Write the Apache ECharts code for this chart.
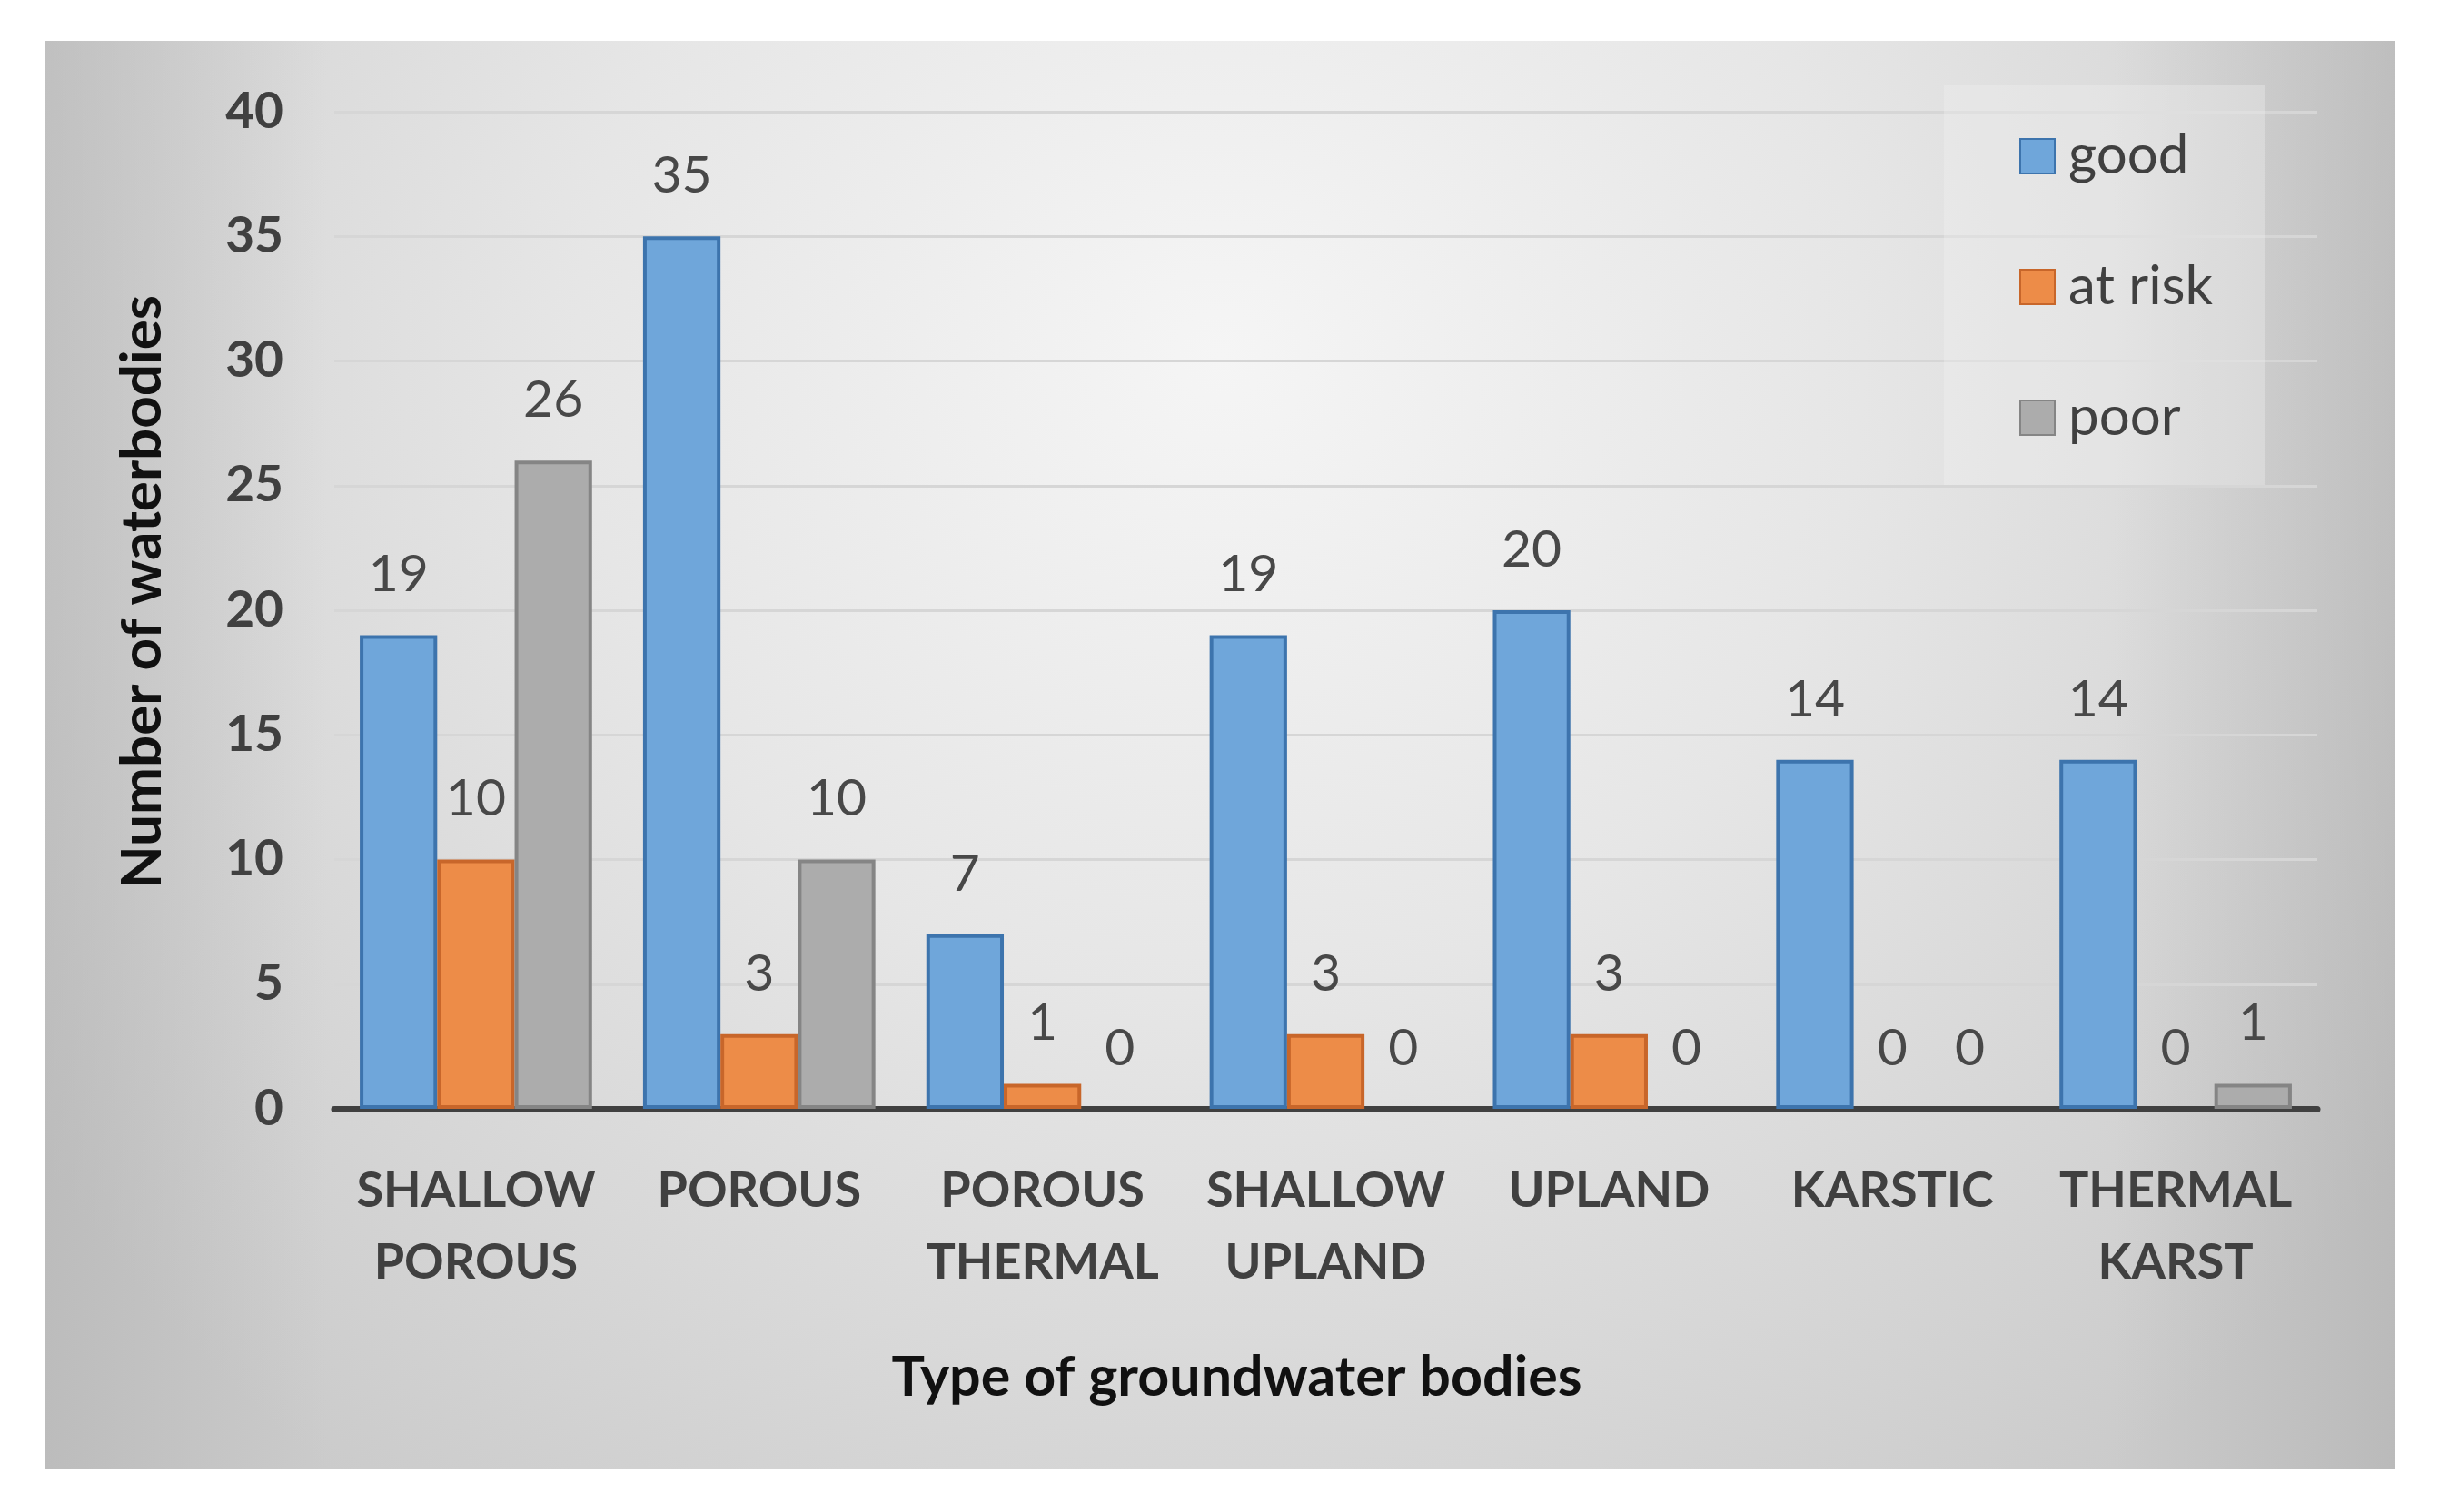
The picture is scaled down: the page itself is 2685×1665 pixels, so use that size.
<!DOCTYPE html>
<html>
<head>
<meta charset="utf-8">
<script src="https://cdn.jsdelivr.net/npm/echarts@6/dist/echarts.min.js"></script>
<style>
html,body{margin:0;padding:0;background:#fff;}
#c{width:2685px;height:1665px;}
</style>
</head>
<body>
<div id="c"></div>
<script>
const categories = ['SHALLOW\nPOROUS', 'POROUS', 'POROUS\nTHERMAL', 'SHALLOW\nUPLAND', 'UPLAND', 'KARSTIC', 'THERMAL\nKARST'];
const seriesNames = ['good', 'at risk', 'poor'];
const good = [19, 35, 7, 19, 20, 14, 14];
const atRisk = [10, 3, 1, 3, 3, 0, 0];
const poor = [26, 10, 0, 0, 0, 0, 1];
const yTitle = 'Number of waterbodies';
const xTitle = 'Type of groundwater bodies';

const FONT = 'Lato, "Open Sans", sans-serif';
const fills = ['#6fa6da', '#ed8c48', '#acacac'];
const borders = ['#3d74ad', '#c8662a', '#858585'];
const values = [good, atRisk, poor];

const chart = echarts.init(document.getElementById('c'), null, {renderer: 'canvas'});

const series = seriesNames.map((n, i) => ({
  name: n,
  type: 'bar',
  data: values[i].map(v => v === 0 ? {value: v, itemStyle: {borderWidth: 0}} : v),
  barGap: '0%',
  barCategoryGap: '18%',
  itemStyle: {color: fills[i], borderColor: borders[i], borderWidth: 4},
  label: {
    show: true, position: 'top', distance: 38,
    fontFamily: FONT, fontSize: 57, color: '#484848', fontWeight: 'normal'
  },
  emphasis: {disabled: true}
}));

chart.setOption({
  animation: false,
  backgroundColor: '#ffffff',
  graphic: [
    {
      type: 'rect', z: -10, silent: true,
      shape: {x: 50, y: 45, width: 2587, height: 1573},
      style: {
        fill: new echarts.graphic.RadialGradient(0.5, 0.22, 1.0, [
          {offset: 0, color: '#f5f5f5'},
          {offset: 0.45, color: '#e6e6e6'},
          {offset: 1, color: '#cbcbcb'}
        ])
      }
    },
    {
      type: 'rect', z: -9, silent: true,
      shape: {x: 50, y: 45, width: 2587, height: 1573},
      style: {
        fill: new echarts.graphic.LinearGradient(0, 0, 1, 0, [
          {offset: 0, color: 'rgba(170,170,170,0.45)'},
          {offset: 0.12, color: 'rgba(170,170,170,0)'},
          {offset: 0.88, color: 'rgba(170,170,170,0)'},
          {offset: 1, color: 'rgba(170,170,170,0.5)'}
        ])
      }
    }
  ],
  legend: {
    orient: 'vertical',
    left: 2140, top: 94,
    padding: [48, 57, 44, 83],
    backgroundColor: 'rgba(242,242,242,0.35)',
    itemWidth: 38, itemHeight: 38, itemGap: 84,
    icon: 'rect',
    textStyle: {fontFamily: FONT, fontSize: 60, color: '#404040', lineHeight: 56, padding: [0, 0, 0, 10]},
    data: seriesNames
  },
  grid: {left: 368, right: 134, top: 123, bottom: 444, containLabel: false},
  xAxis: {
    type: 'category',
    data: categories,
    name: xTitle,
    nameLocation: 'middle',
    nameGap: 266,
    nameTextStyle: {fontFamily: FONT, fontSize: 61, fontWeight: 'bold', color: '#111', padding: [0, 196, 0, 0]},
    axisLine: {show: true, lineStyle: {color: '#404040', width: 7}},
    axisTick: {show: false},
    axisLabel: {
      interval: 0, margin: 51,
      fontFamily: FONT, fontSize: 54, fontWeight: 'bold', color: '#404040', lineHeight: 79
    }
  },
  yAxis: {
    type: 'value',
    min: 0, max: 40, interval: 5,
    name: yTitle,
    nameLocation: 'middle',
    nameGap: 180,
    nameRotate: 90,
    nameTextStyle: {fontFamily: FONT, fontSize: 62, fontWeight: 'bold', color: '#111', padding: [0, 0, 0, 40]},
    axisLine: {show: false},
    axisTick: {show: false},
    axisLabel: {margin: 56, fontFamily: FONT, fontSize: 55, fontWeight: 'bold', color: '#404040'},
    splitLine: {show: true, lineStyle: {color: '#d6d6d6', width: 3}}
  },
  series: series
});
</script>
</body>
</html>
